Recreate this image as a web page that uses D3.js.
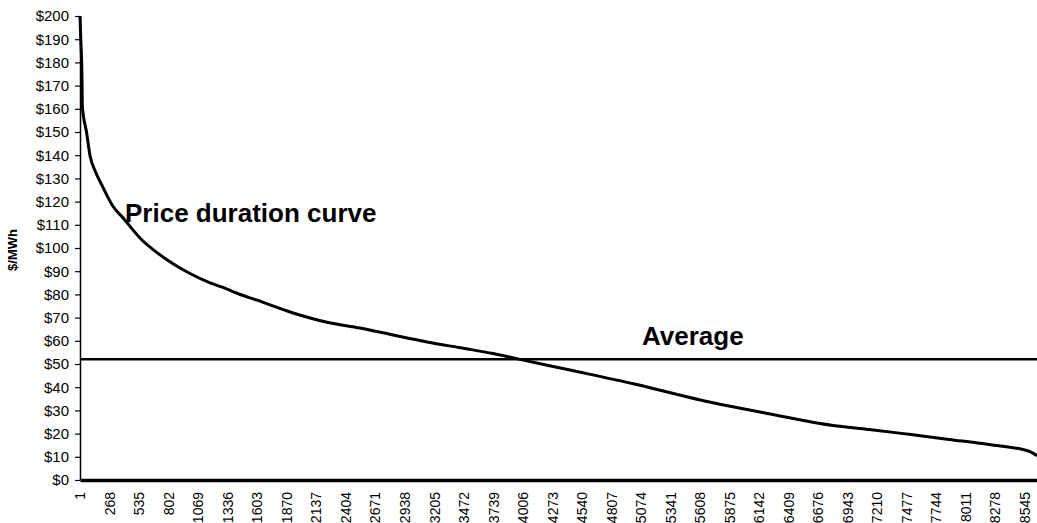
<!DOCTYPE html>
<html>
<head>
<meta charset="utf-8">
<script src="https://cdn.jsdelivr.net/npm/d3@7"></script>
<style>
  body { margin: 0; background: #fff; overflow: hidden; }
  text { font-family: "Liberation Sans", Arial, sans-serif; }
</style>
</head>
<body>
<div id="chart"></div>
<script>
// hours of the year, sorted by price
var hours  = [1, 8, 16, 20, 22, 60, 91, 140, 200, 299, 390, 550, 698, 850, 996, 1178, 1295,
              1422, 1603, 1929, 2237, 2535, 2834, 3142, 3441, 3740, 3982, 4424, 5007, 5613,
              6219, 6816, 7140, 7502, 7864, 8226, 8588, 8660];
var prices = [200, 190, 180, 170, 161, 150, 140, 133, 127, 118, 113, 104, 98, 93, 89, 85, 83,
              80.5, 77.5, 72, 68, 65.5, 62.5, 59.5, 57, 54.5, 52, 47.5, 41.5, 34.5,
              28.7, 23.5, 21.8, 19.7, 17.5, 15.3, 12.4, 10.5];
var averagePrice = 52;

var xTickLabels = [1, 268, 535, 802, 1069, 1336, 1603, 1870, 2137, 2404, 2671, 2938,
                   3205, 3472, 3739, 4006, 4273, 4540, 4807, 5074, 5341, 5608, 5875,
                   6142, 6409, 6676, 6943, 7210, 7477, 7744, 8011, 8278, 8545];
var yTickLabels = [0, 10, 20, 30, 40, 50, 60, 70, 80, 90, 100, 110, 120, 130, 140,
                   150, 160, 170, 180, 190, 200];

var data = hours.map(function(h, i) { return {hour: h, price: prices[i]}; });

var width = 1037, height = 523;

var svg = d3.select("#chart")
  .append("svg")
    .attr("width", width)
    .attr("height", height);

var x = d3.scaleLinear()
  .domain([1, 8660])
  .range([80, 1037]);

var y = d3.scaleLinear()
  .domain([0, 200])
  .range([480, 16]);

// Y axis
var yAxis = svg.append("g")
  .attr("transform", "translate(80,0)")
  .call(d3.axisLeft(y)
    .tickValues(yTickLabels)
    .tickSize(5)
    .tickSizeOuter(0)
    .tickFormat(function(d) { return "$" + d; }));
yAxis.select(".domain").attr("stroke", "#000").attr("stroke-width", 1.5);
yAxis.selectAll(".tick line").attr("stroke", "#000").attr("stroke-width", 1.2);
yAxis.selectAll(".tick text")
  .attr("x", -11)
  .attr("fill", "#000")
  .style("font-size", "15px");

// X axis
var xAxis = svg.append("g")
  .attr("transform", "translate(0,480)")
  .call(d3.axisBottom(x)
    .tickValues(xTickLabels)
    .tickSize(0)
    .tickSizeOuter(0)
    .tickFormat(d3.format("d")));
xAxis.select(".domain").attr("stroke", "#000").attr("stroke-width", 3.5);
xAxis.selectAll(".tick text")
  .attr("fill", "#000")
  .style("font-size", "14px")
  .attr("text-anchor", "end")
  .attr("transform", "rotate(-90)")
  .attr("x", -12)
  .attr("y", 0)
  .attr("dy", "0.35em");

// Y axis label
svg.append("text")
  .attr("transform", "translate(17,250) rotate(-90)")
  .attr("text-anchor", "middle")
  .style("font-size", "13px")
  .style("font-weight", "bold")
  .text("$/MWh");

// Average line
svg.append("line")
  .attr("x1", x(1))
  .attr("x2", x(8660))
  .attr("y1", y(averagePrice))
  .attr("y2", y(averagePrice))
  .attr("stroke", "#000")
  .attr("stroke-width", 2.5);

// Price duration curve
svg.append("path")
  .datum(data)
  .attr("fill", "none")
  .attr("stroke", "#000")
  .attr("stroke-width", 3)
  .attr("d", d3.line()
    .curve(d3.curveMonotoneX)
    .x(function(d) { return x(d.hour); })
    .y(function(d) { return y(d.price); }));

// annotations
svg.append("text")
  .attr("x", 125)
  .attr("y", 222)
  .style("font-size", "26px")
  .style("font-weight", "bold")
  .text("Price duration curve");

svg.append("text")
  .attr("x", 642)
  .attr("y", 345)
  .style("font-size", "26px")
  .style("font-weight", "bold")
  .text("Average");
</script>
</body>
</html>
